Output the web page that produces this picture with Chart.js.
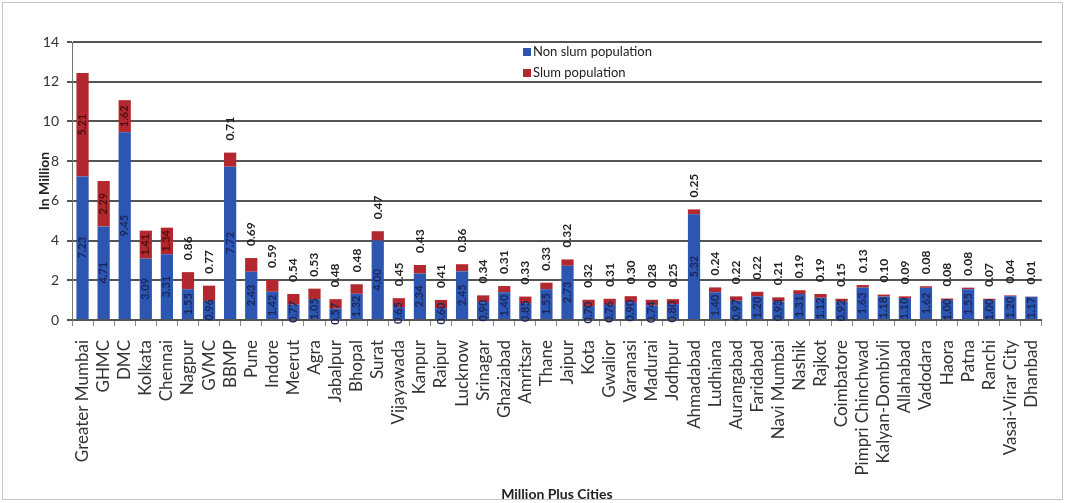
<!DOCTYPE html>
<html>
<head>
<meta charset="utf-8">
<script src="https://cdn.jsdelivr.net/npm/chart.js@4.4.1/dist/chart.umd.min.js"></script>
<style>
  body { margin: 0; background: #fff; }
  .wrap { position: relative; width: 1066px; height: 503px; }
  .frame { position: absolute; left: 2px; top: 2px; right: 3px; bottom: 3px; border: 1px solid #c4c4c4; pointer-events: none; }
</style>
</head>
<body>
<div class="wrap">
  <canvas id="slumChart" width="1066" height="503"></canvas>
  <div class="frame"></div>
</div>
<script>
let cities = ["Greater Mumbai", "GHMC", "DMC", "Kolkata", "Chennai", "Nagpur", "GVMC", "BBMP", "Pune", "Indore",
  "Meerut", "Agra", "Jabalpur", "Bhopal", "Surat", "Vijayawada", "Kanpur", "Raipur", "Lucknow", "Srinagar",
  "Ghaziabad", "Amritsar", "Thane", "Jaipur", "Kota", "Gwalior", "Varanasi", "Madurai", "Jodhpur", "Ahmadabad",
  "Ludhiana", "Aurangabad", "Faridabad", "Navi Mumbai", "Nashik", "Rajkot", "Coimbatore", "Pimpri Chinchwad",
  "Kalyan-Dombivli", "Allahabad", "Vadodara", "Haora", "Patna", "Ranchi", "Vasai-Virar City", "Dhanbad"];

let nonSlum = [7.23, 4.71, 9.45, 3.09, 3.31, 1.55, 0.96, 7.72, 2.43, 1.42,
  0.77, 1.05, 0.57, 1.32, 4.00, 0.65, 2.34, 0.60, 2.45, 0.90,
  1.40, 0.85, 1.55, 2.73, 0.70, 0.76, 0.90, 0.74, 0.80, 5.32,
  1.40, 0.97, 1.20, 0.93, 1.31, 1.12, 0.92, 1.63,
  1.18, 1.10, 1.62, 1.00, 1.55, 1.00, 1.20, 1.17];

let slum = [5.21, 2.29, 1.62, 1.41, 1.34, 0.86, 0.77, 0.71, 0.69, 0.59,
  0.54, 0.53, 0.48, 0.48, 0.47, 0.45, 0.43, 0.41, 0.36, 0.34,
  0.31, 0.33, 0.33, 0.32, 0.32, 0.31, 0.30, 0.28, 0.25, 0.25,
  0.24, 0.22, 0.22, 0.21, 0.19, 0.19, 0.15, 0.13,
  0.10, 0.09, 0.08, 0.08, 0.08, 0.07, 0.04, 0.01];

let yTicks = [0, 2, 4, 6, 8, 10, 12, 14];

const blue = '#2d56b2';
const red = '#b3282e';

// value labels on the bars, rotated like the excel ones
const barLabels = {
  id: 'barLabels',
  afterDatasetsDraw(chart) {
    const ctx = chart.ctx;
    chart.data.datasets.forEach(function (ds, di) {
      const meta = chart.getDatasetMeta(di);
      meta.data.forEach(function (bar, i) {
        const v = ds.data[i];
        const txt = v.toFixed(2);
        ctx.save();
        let x = bar.x, y;
        if (di == 0) {
          y = (bar.y + bar.base) / 2;
          ctx.font = 'bold 11px Lato';
          ctx.fillStyle = '#1a2558';
          ctx.textAlign = 'center';
        } else if (v >= 1) {
          y = (bar.y + bar.base) / 2;
          ctx.font = 'bold 11px Lato';
          ctx.fillStyle = '#4a0f12';
          ctx.textAlign = 'center';
        } else {
          y = bar.y - 12;
          ctx.font = 'bold 12px Lato';
          ctx.fillStyle = '#222';
          ctx.textAlign = 'left';
        }
        ctx.translate(x, y);
        ctx.rotate(-Math.PI / 2);
        ctx.textBaseline = 'middle';
        ctx.fillText(txt, 0, 0);
        ctx.restore();
      });
    });
  }
};

// legend sits inside the plot near the top
const innerLegend = {
  id: 'innerLegend',
  afterDraw(chart) {
    const ctx = chart.ctx;
    const rows = [52, 73];
    chart.data.datasets.forEach(function (ds, i) {
      ctx.save();
      ctx.fillStyle = ds.backgroundColor;
      ctx.fillRect(523, rows[i] - 4, 8, 8);
      ctx.font = '13px Lato';
      ctx.fillStyle = '#222';
      ctx.textBaseline = 'middle';
      ctx.fillText(ds.label, 533, rows[i]);
      ctx.restore();
    });
  }
};

const ctx = document.getElementById('slumChart').getContext('2d');
const slumChart = new Chart(ctx, {
  type: 'bar',
  data: {
    labels: cities,
    datasets: [{
      label: 'Non slum population',
      data: nonSlum,
      backgroundColor: blue,
      categoryPercentage: 1,
      barPercentage: 0.58
    }, {
      label: 'Slum population',
      data: slum,
      backgroundColor: red,
      categoryPercentage: 1,
      barPercentage: 0.58
    }]
  },
  options: {
    responsive: false,
    animation: false,
    layout: { padding: { top: 42, right: 20, left: 0, bottom: 0 } },
    plugins: {
      legend: { display: false },
      tooltip: { enabled: false }
    },
    scales: {
      x: {
        stacked: true,
        afterFit: function (axis) { axis.height = 183; },
        grid: { drawOnChartArea: false, color: '#888', tickLength: 6 },
        border: { color: '#555', width: 2 },
        ticks: {
          minRotation: 90,
          maxRotation: 90,
          autoSkip: false,
          padding: 14,
          color: '#333',
          font: { family: 'Lato', size: 17 }
        },
        title: {
          display: true,
          text: 'Million Plus Cities',
          color: '#222',
          padding: { top: 7, bottom: 0 },
          font: { family: 'Lato', size: 14, weight: 'bold' }
        }
      },
      y: {
        stacked: true,
        min: 0,
        max: 14,
        afterFit: function (axis) { axis.width = 72; },
        afterBuildTicks: function (axis) { axis.ticks = yTicks.map(v => ({ value: v })); },
        grid: { color: '#555', lineWidth: 2, tickLength: 5 },
        border: { color: '#777', width: 1 },
        ticks: {
          padding: 8,
          color: '#333',
          font: { family: 'Lato', size: 14 }
        },
        title: {
          display: true,
          text: 'In Million',
          color: '#222',
          padding: { top: 36, bottom: 0 },
          font: { family: 'Lato', size: 14, weight: 'bold' }
        }
      }
    }
  },
  plugins: [barLabels, innerLegend]
});
</script>
</body>
</html>
